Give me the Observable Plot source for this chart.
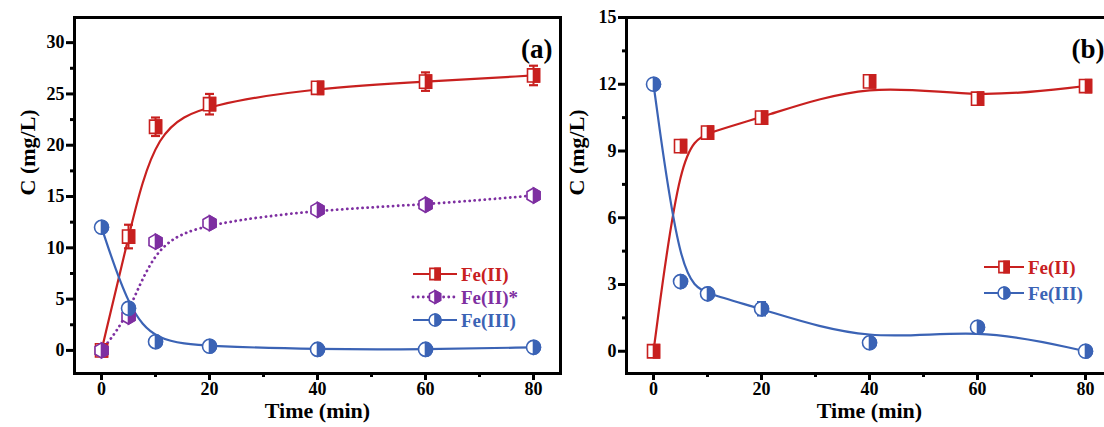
<!DOCTYPE html>
<html><head><meta charset="utf-8">
<script src="https://cdn.jsdelivr.net/npm/d3@7"></script>
<script src="https://cdn.jsdelivr.net/npm/@observablehq/plot@0.6"></script>
<style>
body{margin:0;background:#fff;}
#wrap{position:relative;width:1104px;height:427px;overflow:hidden;font-family:"Liberation Serif","Times New Roman","DejaVu Serif",serif;font-weight:bold;}
#wrap svg, #wrap svg text{font-family:"Liberation Serif","Times New Roman","DejaVu Serif",serif !important;font-weight:bold !important;}
.panel{position:absolute;top:0;}
.legend{position:absolute;font-size:19px;font-weight:bold;line-height:1;font-family:"Liberation Serif","Times New Roman","DejaVu Serif",serif;}
.legend .row{position:absolute;display:flex;align-items:center;white-space:nowrap;}
.legend svg{margin-right:4px;overflow:visible;}
</style></head><body><div id="wrap"></div>
<script>
// ---- data ----
const time = [0, 5, 10, 20, 40, 60, 80];
const seriesNames = ["Fe(II)", "Fe(II)*", "Fe(III)"];
const seriesColors = ["#c8201f", "#7e2fa1", "#3b63b5"];

const aFe2    = [0, 11.1, 21.8, 24.0, 25.6, 26.2, 26.8];
const aFe2Err = [0.2, 1.15, 0.9, 1.0, 0.5, 0.9, 0.95];
const aFe2s    = [0, 3.3, 10.6, 12.4, 13.7, 14.2, 15.1];
const aFe2sErr = [0.2, 0.4, 0.3, 0.4, 0.4, 0.4, 0.3];
const aFe3    = [12.0, 4.1, 0.85, 0.4, 0.1, 0.1, 0.3];
const aFe3Err = [0.2, 0.4, 0.3, 0.2, 0.2, 0.2, 0.2];

const bFe2    = [0, 9.22, 9.83, 10.5, 12.13, 11.35, 11.92];
const bFe2Err = [0.1, 0.2, 0.25, 0.2, 0.25, 0.2, 0.2];
const bFe3    = [12.0, 3.13, 2.58, 1.91, 0.38, 1.08, 0.0];
const bFe3Err = [0.1, 0.2, 0.2, 0.3, 0.2, 0.2, 0.1];

const xMajor = [0, 20, 40, 60, 80];
const xMinor = [10, 30, 50, 70];
const aYMajor = [0, 5, 10, 15, 20, 25, 30];
const aYMinor = [2.5, 7.5, 12.5, 17.5, 22.5, 27.5];
const bYMajor = [0, 3, 6, 9, 12, 15];
const bYMinor = [1.5, 4.5, 7.5, 10.5, 13.5];

// ---- custom symbols ----
const R = s => Math.sqrt(s / Math.PI);
const sqFull = {draw(c, s){const r = R(s); c.rect(-r, -r * 1.1, 2 * r, 2.2 * r);}};
const sqHalf = {draw(c, s){const r = R(s); c.rect(0, -r * 1.1, r, 2.2 * r);}};
const ciFull = {draw(c, s){const r = R(s); c.moveTo(r, 0); c.arc(0, 0, r, 0, 2 * Math.PI); c.closePath();}};
const ciHalf = {draw(c, s){const r = R(s); c.moveTo(0, -r); c.arc(0, 0, r, -Math.PI / 2, Math.PI / 2); c.closePath();}};
const hexFull = {draw(c, s){const r = R(s); for (let i = 0; i < 6; i++){const a = -Math.PI / 2 + i * Math.PI / 3; const px = r * Math.cos(a), py = r * Math.sin(a); i ? c.lineTo(px, py) : c.moveTo(px, py);} c.closePath();}};
const hexHalf = {draw(c, s){const r = R(s); const k = Math.cos(Math.PI / 6); c.moveTo(0, -r); c.lineTo(r * k, -r / 2); c.lineTo(r * k, r / 2); c.lineTo(0, r); c.closePath();}};
const cap = {draw(c, s){const r = R(s); c.moveTo(-r, 0); c.lineTo(r, 0);}};

const symbolSets = {
  "Fe(II)": {full: sqFull, half: sqHalf, r: 6, dash: null},
  "Fe(II)*": {full: hexFull, half: hexHalf, r: 7.5, dash: "0.1,5"},
  "Fe(III)": {full: ciFull, half: ciHalf, r: 7, dash: null}
};

const FONT = "Liberation Serif, Times New Roman, DejaVu Serif, serif";

function makePanel(cfg){
  const rowsBy = cfg.series.map(s => s.values.map((v, i) => ({t: time[i], v, lo: v - s.err[i], hi: v + s.err[i]})));
  const marks = [];
  const tickFont = {fontSize: 18, fontWeight: "bold", fontFamily: FONT, strokeWidth: 3, label: null};
  marks.push(Plot.axisX(xMajor, {...tickFont, tickSize: 7, tickPadding: 2}));
  marks.push(Plot.axisX(xMinor, {...tickFont, tickSize: 4, tickFormat: () => ""}));
  marks.push(Plot.axisY(cfg.yMajor, {...tickFont, tickSize: 8, tickPadding: 2}));
  marks.push(Plot.axisY(cfg.yMinor, {...tickFont, tickSize: 4, tickFormat: () => ""}));
  cfg.series.forEach((s, k) => {
    const st = symbolSets[s.name];
    marks.push(Plot.line(rowsBy[k], {x: "t", y: "v", curve: "basis", stroke: s.color, strokeWidth: st.dash ? 2.8 : 2.2, strokeDasharray: st.dash, strokeLinecap: "round"}));
  });
  cfg.series.forEach((s, k) => {
    const st = symbolSets[s.name];
    const d = rowsBy[k];
    marks.push(Plot.ruleX(d, {x: "t", y1: "lo", y2: "hi", stroke: s.color, strokeWidth: 2}));
    marks.push(Plot.dot(d, {x: "t", y: "lo", symbol: cap, r: 4.5, stroke: s.color, strokeWidth: 2.2, fill: "none"}));
    marks.push(Plot.dot(d, {x: "t", y: "hi", symbol: cap, r: 4.5, stroke: s.color, strokeWidth: 2.2, fill: "none"}));
    marks.push(Plot.dot(d, {x: "t", y: "v", symbol: st.full, r: st.r, fill: "white", stroke: s.color, strokeWidth: 1.6}));
    marks.push(Plot.dot(d, {x: "t", y: "v", symbol: st.half, r: st.r, fill: s.color, stroke: s.color, strokeWidth: 1.6}));
  });
  marks.push(Plot.frame({stroke: "black", strokeWidth: 3}));
  marks.push(Plot.text(["Time (min)"], {text: d => d, frameAnchor: "bottom", dy: 44, fontSize: 22, fontWeight: "bold", fontFamily: FONT, fill: "black"}));
  marks.push(Plot.text(["C (mg/L)"], {text: d => d, frameAnchor: "left", rotate: -90, dx: cfg.labelDx, fontSize: 22, fontWeight: "bold", fontFamily: FONT, fill: "black"}));
  marks.push(Plot.text([cfg.tag], {text: d => d, frameAnchor: "top-right", textAnchor: "end", dx: -8, dy: 21, fontSize: 27, fontWeight: "bold", fontFamily: FONT, fill: "black"}));
  return Plot.plot({
    width: cfg.width, height: 427,
    marginLeft: cfg.marginLeft, marginRight: cfg.marginRight, marginTop: 17, marginBottom: 54,
    x: {domain: [-5, 85]},
    y: {domain: cfg.yDomain},
    style: {fontFamily: FONT, fontWeight: "bold", color: "black", background: "transparent", overflow: "visible"},
    marks
  });
}

function legend(items, left, top, lineW){
  const div = document.createElement("div");
  div.className = "legend";
  div.style.left = left + "px";
  div.style.top = top + "px";
  items.forEach((it, i) => {
    const st = symbolSets[it.name];
    const mk = (sym, r) => {const p = d3.path(); sym.draw(p, r * r * Math.PI); return p.toString();};
    const row = document.createElement("div");
    row.className = "row";
    row.style.top = (i * it.step - 10) + "px";
    const h = 20, cx = lineW / 2, r = st.r * 0.85;
    row.innerHTML = `<svg width="${lineW}" height="${h}"><g transform="translate(0,${h / 2})">
      <line x1="0" x2="${lineW}" y1="0" y2="0" stroke="${it.color}" stroke-width="${st.dash ? 2.8 : 2.2}" ${st.dash ? `stroke-dasharray="${st.dash}" stroke-linecap="round"` : ""}/>
      <path transform="translate(${cx},0)" d="${mk(st.full, r)}" fill="white" stroke="${it.color}" stroke-width="1.6"/>
      <path transform="translate(${cx},0)" d="${mk(st.half, r)}" fill="${it.color}" stroke="${it.color}" stroke-width="1.6"/>
      </g></svg><span style="color:${it.color}">${it.name}</span>`;
    div.appendChild(row);
  });
  return div;
}

const wrap = document.getElementById("wrap");

const pa = makePanel({
  width: 570, marginLeft: 74, marginRight: 10, labelDx: -47,
  yDomain: [-2.25, 32.45], yMajor: aYMajor, yMinor: aYMinor, tag: "(a)",
  series: [
    {name: seriesNames[0], color: seriesColors[0], values: aFe2, err: aFe2Err},
    {name: seriesNames[1], color: seriesColors[1], values: aFe2s, err: aFe2sErr},
    {name: seriesNames[2], color: seriesColors[2], values: aFe3, err: aFe3Err}
  ]
});
pa.classList.add("panel"); pa.style.left = "0px";
wrap.appendChild(pa);

const pb = makePanel({
  width: 562, marginLeft: 66, marginRight: 10, labelDx: -50,
  yDomain: [-1, 15], yMajor: bYMajor, yMinor: bYMinor, tag: "(b)",
  series: [
    {name: seriesNames[0], color: seriesColors[0], values: bFe2, err: bFe2Err},
    {name: seriesNames[2], color: seriesColors[2], values: bFe3, err: bFe3Err}
  ]
});
pb.classList.add("panel"); pb.style.left = "560px";
wrap.appendChild(pb);

wrap.appendChild(legend([
  {name: seriesNames[0], color: seriesColors[0], step: 23},
  {name: seriesNames[1], color: seriesColors[1], step: 23},
  {name: seriesNames[2], color: seriesColors[2], step: 23}
], 413, 274, 44));
wrap.appendChild(legend([
  {name: seriesNames[0], color: seriesColors[0], step: 26},
  {name: seriesNames[2], color: seriesColors[2], step: 26}
], 984, 267, 40));
</script></body></html>
